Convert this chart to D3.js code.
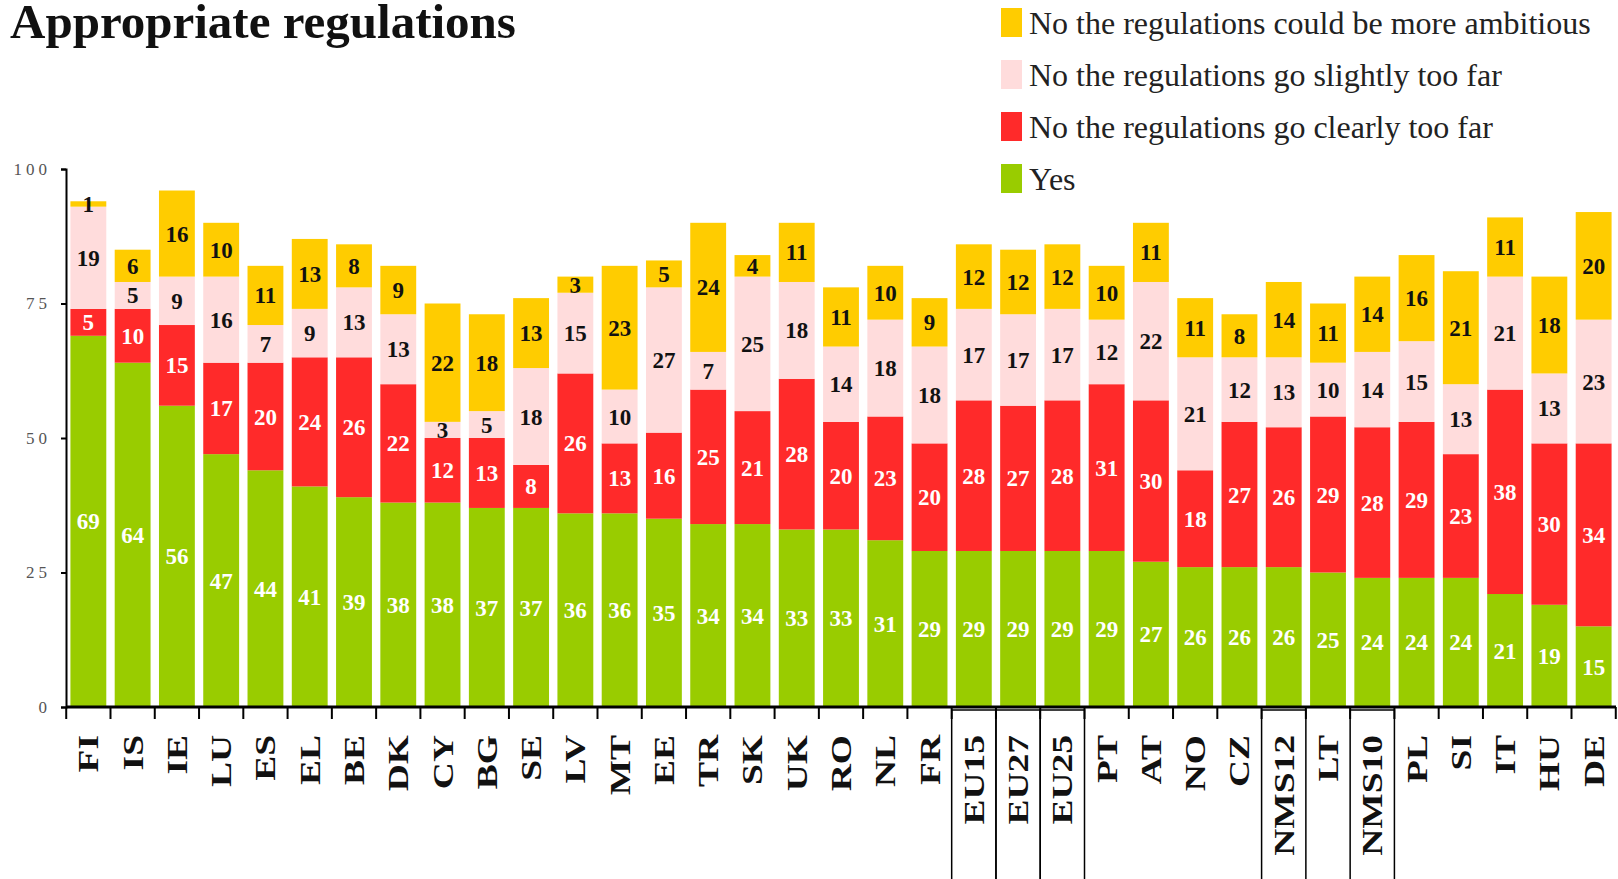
<!DOCTYPE html>
<html lang="en">
<head>
<meta charset="UTF-8">
<title>Appropriate regulations</title>
<style>
  html, body { margin: 0; padding: 0; background: #fff; }
  svg { display: block; }
  text { font-family: "Liberation Serif", "DejaVu Serif", serif; }
</style>
</head>
<body>
<svg></svg>
<script src="https://cdnjs.cloudflare.com/ajax/libs/d3/7.8.5/d3.min.js"></script>
<script>
// data
const categories = ['FI','IS','IE','LU','ES','EL','BE','DK','CY','BG','SE','LV','MT','EE','TR','SK','UK','RO','NL','FR',
  'EU15','EU27','EU25','PT','AT','NO','CZ','NMS12','LT','NMS10','PL','SI','IT','HU','DE'];
const yes            = [69,64,56,47,44,41,39,38,38,37,37,36,36,35,34,34,33,33,31,29,29,29,29,29,27,26,26,26,25,24,24,24,21,19,15];
const clearlyTooFar  = [5,10,15,17,20,24,26,22,12,13,8,26,13,16,25,21,28,20,23,20,28,27,28,31,30,18,27,26,29,28,29,23,38,30,34];
const slightlyTooFar = [19,5,9,16,7,9,13,13,3,5,18,15,10,27,7,25,18,14,18,18,17,17,17,12,22,21,12,13,10,14,15,13,21,13,23];
const moreAmbitious  = [1,6,16,10,11,13,8,9,22,18,13,3,23,5,24,4,11,11,10,9,12,12,12,10,11,11,8,14,11,14,16,21,11,18,20];
const seriesKeys  = ['yes','clear','slight','ambitious'];
const seriesNames = ['Yes','No the regulations go clearly too far','No the regulations go slightly too far','No the regulations could be more ambitious'];
const seriesColors = ['#99cc00','#ff2a2a','#ffdcdc','#ffcc00'];
const labelColors  = ['#fff','#fff','#111','#111'];
const yTicks = [0,25,50,75,100];
const boxed = ['EU15','EU27','EU25','NMS12','NMS10'];

const width = 1618;
const height = 879;

const rows = categories.map((c, i) => ({
  cat: c, yes: yes[i], clear: clearlyTooFar[i], slight: slightlyTooFar[i], ambitious: moreAmbitious[i]
}));

const x = d3.scaleBand()
  .domain(categories)
  .range([66, 1616])
  .paddingInner(0.19)
  .paddingOuter(0.1);

const y = d3.scaleLinear()
  .domain([0, 100])
  .range([707, 169]);

const color = d3.scaleOrdinal().domain(seriesKeys).range(seriesColors);
const labelColor = d3.scaleOrdinal().domain(seriesKeys).range(labelColors);

const stacked = d3.stack().keys(seriesKeys)(rows);

const svg = d3.select('svg')
  .attr('width', width)
  .attr('height', height);

// title
svg.append('text')
  .attr('x', 10)
  .attr('y', 38)
  .style('font-size', '49px')
  .style('font-weight', 'bold')
  .attr('fill', '#111')
  .text('Appropriate regulations');

// bars
const layer = svg.append('g').selectAll('g')
  .data(stacked)
  .join('g')
  .attr('fill', d => color(d.key));

layer.selectAll('rect')
  .data(d => d)
  .join('rect')
  .attr('x', d => x(d.data.cat))
  .attr('y', d => y(d[1]))
  .attr('width', x.bandwidth())
  .attr('height', d => y(d[0]) - y(d[1]));

// segment labels
const labels = svg.append('g').selectAll('g')
  .data(stacked)
  .join('g')
  .attr('fill', d => labelColor(d.key));

labels.selectAll('text')
  .data(d => d)
  .join('text')
  .attr('x', d => x(d.data.cat) + x.bandwidth() / 2)
  .attr('y', d => (y(d[0]) + y(d[1])) / 2)
  .attr('dy', '0.35em')
  .attr('text-anchor', 'middle')
  .style('font-size', '23px')
  .style('font-weight', 'bold')
  .text(d => d[1] - d[0]);

// y axis
const yAxis = svg.append('g')
  .attr('transform', 'translate(66,0)')
  .call(d3.axisLeft(y).tickValues(yTicks).tickSize(5).tickPadding(10));
yAxis.select('.domain').attr('stroke', '#000').attr('stroke-width', 2);
yAxis.selectAll('.tick line').attr('stroke', '#000').attr('stroke-width', 2);
yAxis.selectAll('.tick text')
  .style('font-family', '"Liberation Serif", serif')
  .style('font-size', '17px')
  .style('letter-spacing', '4px')
  .attr('fill', '#555');

// x axis line + ticks at band boundaries
const step = x.step();
const gap = step * x.paddingInner();
const bounds = categories.map(c => x(c) - gap / 2).concat([x(categories[categories.length - 1]) + x.bandwidth() + gap / 2]);

const xAxis = svg.append('g');
xAxis.append('line')
  .attr('x1', 66).attr('x2', 1616)
  .attr('y1', y(0)).attr('y2', y(0))
  .attr('stroke', '#000').attr('stroke-width', 3);
xAxis.selectAll('line.tick')
  .data(bounds)
  .join('line')
  .attr('class', 'tick')
  .attr('x1', d => d).attr('x2', d => d)
  .attr('y1', y(0)).attr('y2', y(0) + 12)
  .attr('stroke', '#000').attr('stroke-width', 2);

// boxes round the aggregates
xAxis.selectAll('rect')
  .data(boxed)
  .join('rect')
  .attr('x', d => x(d) - gap / 2)
  .attr('y', y(0) + 3)
  .attr('width', step)
  .attr('height', 200)
  .attr('fill', 'none')
  .attr('stroke', '#000')
  .attr('stroke-width', 1.5);

// category labels
xAxis.selectAll('text')
  .data(categories)
  .join('text')
  .attr('transform', d => `translate(${x(d) + x.bandwidth() / 2 + 10},${y(0) + 28}) rotate(-90) scale(1.25,1)`)
  .attr('text-anchor', 'end')
  .style('font-size', '30px')
  .style('font-weight', 'bold')
  .attr('fill', '#111')
  .text(d => d);

// legend, top to bottom
const legendOrder = [3, 2, 1, 0];
const legend = svg.append('g').selectAll('g')
  .data(legendOrder)
  .join('g')
  .attr('transform', (d, i) => `translate(1001,${8 + i * 52})`);

legend.append('rect')
  .attr('width', 21)
  .attr('height', 29)
  .attr('fill', d => seriesColors[d]);

legend.append('text')
  .attr('x', 28)
  .attr('y', 26)
  .style('font-size', '32px')
  .attr('fill', '#222')
  .text(d => seriesNames[d]);
</script>
</body>
</html>
